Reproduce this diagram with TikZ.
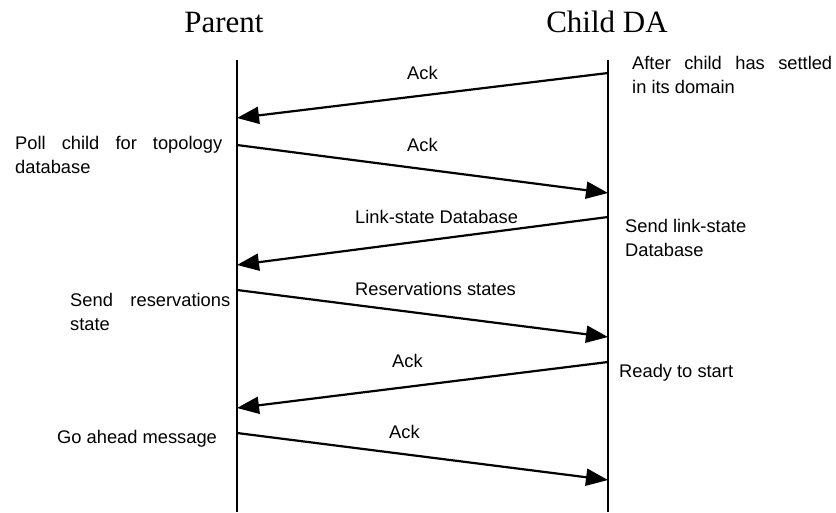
\documentclass[tikz,border=0pt]{standalone}
\usepackage{fontspec}
\setmainfont{Liberation Sans}
\newfontfamily\headfont{Liberation Serif}
\usetikzlibrary{arrows.meta}

\tikzset{
  lifeline/.style={line width=1.6pt},
  msg/.style={line width=2.2pt, -{Triangle[length=22pt,width=17pt]}},
  head/.style={inner sep=0pt, anchor=base, font=\headfont\fontsize{31}{36}\selectfont},
  txt/.style={inner sep=0pt, anchor=base west, align=left,
              font=\fontsize{18.3}{24}\selectfont},
}

\begin{document}
\begin{tikzpicture}[x=1pt, y=-1pt]
  \useasboundingbox (0,0) rectangle (836,512);

  % column headings
  \node[head] (hparent) at (224,32) {Parent};
  \node[head] (hchild)  at (607,32) {Child DA};

  % lifelines
  \coordinate (ptop) at (237,60);
  \coordinate (pbot) at (237,512);
  \coordinate (ctop) at (608,60);
  \coordinate (cbot) at (608,512);
  \draw[lifeline] (ptop) -- (pbot);
  \draw[lifeline] (ctop) -- (cbot);

  % message end points on the lifelines
  \coordinate (c1) at (608,73);  \coordinate (p1) at (237,118);
  \coordinate (p2) at (237,145); \coordinate (c2) at (608,193);
  \coordinate (c3) at (608,217); \coordinate (p3) at (237,265);
  \coordinate (p4) at (237,290); \coordinate (c4) at (608,337);
  \coordinate (c5) at (608,362); \coordinate (p5) at (237,408);
  \coordinate (p6) at (237,433); \coordinate (c6) at (608,480);

  % messages
  \draw[msg] (c1) -- (p1);
  \draw[msg] (p2) -- (c2);
  \draw[msg] (c3) -- (p3);
  \draw[msg] (p4) -- (c4);
  \draw[msg] (c5) -- (p5);
  \draw[msg] (p6) -- (c6);

  % message labels
  \node[txt] (m1) at (407,79)  {Ack};
  \node[txt] (m2) at (407,151) {Ack};
  \node[txt] (m3) at (355,223) {Link-state Database};
  \node[txt] (m4) at (355,295) {Reservations states};
  \node[txt] (m5) at (392,367) {Ack};
  \node[txt] (m6) at (389,438) {Ack};

  % notes beside the lifelines (anchored on the baseline of their last line)
  \node[txt] (n1) at (632,93)  {\makebox[200pt][s]{After child has settled}\\in its domain};
  \node[txt] (n2) at (15,173)  {\makebox[207pt][s]{Poll child for topology}\\database};
  \node[txt] (n3) at (625,256) {Send link-state\\Database};
  \node[txt] (n4) at (70,330)  {\makebox[160pt][s]{Send reservations}\\state};
  \node[txt] (n5) at (619,377) {Ready to start};
  \node[txt] (n6) at (57,443)  {Go ahead message};
\end{tikzpicture}
\end{document}
